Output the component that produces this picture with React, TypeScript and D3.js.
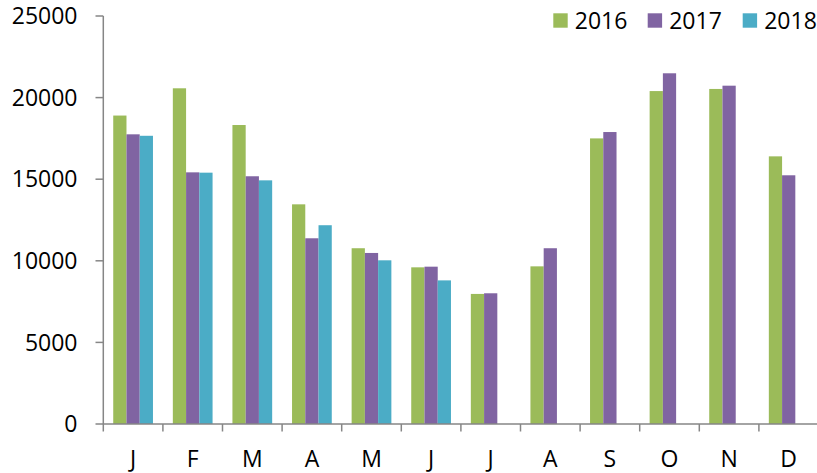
import React from "react";
import * as d3 from "d3";

const months = ["J", "F", "M", "A", "M", "J", "J", "A", "S", "O", "N", "D"];
const seriesNames = ["2016", "2017", "2018"];
const values2016 = [18900, 20570, 18320, 13460, 10770, 9600, 7970, 9660, 17500, 20400, 20530, 16400];
const values2017 = [17750, 15420, 15180, 11380, 10480, 9640, 8010, 10770, 17890, 21490, 20730, 15240];
const values2018: (number | null)[] = [17660, 15400, 14930, 12180, 10030, 8800, null, null, null, null, null, null];
const yTicks = [0, 5000, 10000, 15000, 20000, 25000];
const colors = ["#9BBB59", "#8064A2", "#4BACC6"];

const W = 817;
const H = 473;
const FONT = "'Open Sans', sans-serif";

export default function App() {
  const series = [values2016, values2017, values2018];
  const y = d3.scaleLinear().domain([0, 25000]).range([424, 16]);
  const x = d3
    .scaleBand<number>()
    .domain(months.map((_, i) => i))
    .range([103.3, 818.5])
    .padding(0);
  const bw = x.bandwidth();
  const inner = d3
    .scaleBand<string>()
    .domain(seriesNames)
    .range([bw / 6, (bw * 5) / 6])
    .padding(0);
  const axisColor = "#868686";

  return (
    <svg
      width={W}
      height={H}
      style={{ position: "absolute", left: 0, top: 0, background: "#fff" }}
      fontFamily={FONT}
    >
      {/* bars */}
      {series.map((vals, si) =>
        vals.map((v, mi) =>
          v == null ? null : (
            <rect
              key={`${si}-${mi}`}
              x={(x(mi) as number) + (inner(seriesNames[si]) as number)}
              y={y(v)}
              width={inner.bandwidth()}
              height={y(0) - y(v)}
              fill={colors[si]}
            />
          )
        )
      )}
      {/* y axis */}
      <line x1={103.3} x2={103.3} y1={y(25000)} y2={y(0)} stroke={axisColor} strokeWidth={1.5} />
      {yTicks.map((t) => (
        <g key={t}>
          <line x1={95.5} x2={103.3} y1={y(t)} y2={y(t)} stroke={axisColor} strokeWidth={1.5} />
          <text x={77.5} y={y(t)} dy="0.36em" textAnchor="end" fontSize={23} fill="#000">
            {t}
          </text>
        </g>
      ))}
      {/* x axis */}
      <line x1={103.3} x2={W} y1={y(0)} y2={y(0)} stroke={axisColor} strokeWidth={1.5} />
      {months.map((m, i) => (
        <g key={i}>
          <line
            x1={x(i) as number}
            x2={x(i) as number}
            y1={y(0)}
            y2={y(0) + 7.5}
            stroke={axisColor}
            strokeWidth={1.5}
          />
          <text
            x={(x(i) as number) + bw / 2}
            y={466.5}
            textAnchor="middle"
            fontSize={23}
            fill="#000"
          >
            {m}
          </text>
        </g>
      ))}
      {/* legend */}
      {seriesNames.map((s, i) => {
        const lx = [553.3, 647.7, 742.7][i];
        return (
          <g key={s}>
            <rect x={lx} y={13.3} width={14.4} height={14.4} fill={colors[i]} />
            <text x={lx + 21.5} y={28.5} fontSize={23} fill="#000">
              {s}
            </text>
          </g>
        );
      })}
    </svg>
  );
}
